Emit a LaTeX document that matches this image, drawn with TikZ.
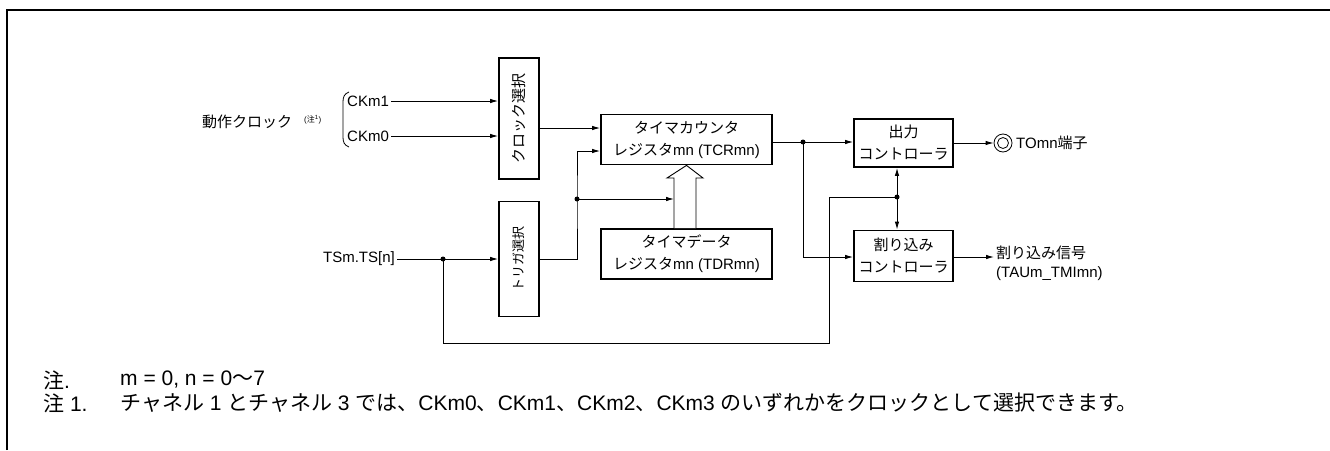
\documentclass[tikz,border=0pt]{standalone}
\usepackage{fontspec}
\usepackage{graphicx}
\setmainfont{Liberation Sans}
\newfontfamily\jp{Noto Sans CJK JP}
\newcommand{\jpt}[1]{{\jp #1}}
\newcommand{\notefont}{\fontsize{21}{24}\selectfont}
\usetikzlibrary{arrows.meta}
\tikzset{
  box/.style={draw, line width=1.8pt, inner sep=0pt, align=center},
  conn/.style={line width=0.9pt},
  arr/.style={-{Latex[length=8pt,width=4.5pt]}},
  darr/.style={{Latex[length=8pt,width=4.5pt]}-{Latex[length=8pt,width=4.5pt]}},
  lbl/.style={inner sep=2pt},
  dot/.style={circle, fill, inner sep=0pt, minimum size=5pt},
  note/.style={anchor=west, inner sep=0pt, font=\notefont},
}
\begin{document}
\begin{tikzpicture}[x=1pt, y=-1pt, font=\fontsize{15}{22}\selectfont]
\useasboundingbox (0,0) rectangle (1330,450);
% frame
\draw[line width=1.2pt] (7,450) -- (7,10) -- (1330,10);

% boxes
\node[box, minimum width=40pt, minimum height=121pt] (clk) at (519,118.5) {\rotatebox{90}{\jpt{クロック選択}}};
\node[box, minimum width=40pt, minimum height=115pt] (trg) at (519,259) {\rotatebox{90}{\fontsize{13}{15}\selectfont\jpt{トリガ選択}}};
\node[box, minimum width=171pt, minimum height=50pt] (tcr) at (686.5,139.5) {\jpt{タイマカウンタ}\\\jpt{レジスタ}mn (TCRmn)};
\node[box, minimum width=171pt, minimum height=50pt] (tdr) at (686.5,254) {\jpt{タイマデータ}\\\jpt{レジスタ}mn (TDRmn)};
\node[box, minimum width=99pt, minimum height=48pt] (outc) at (903.5,143) {\jpt{出力}\\\jpt{コントローラ}};
\node[box, minimum width=99pt, minimum height=51pt] (intc) at (903.5,256) {\jpt{割り込み}\\\jpt{コントローラ}};

% labels
\node (dosa) at (247,122) {\jpt{動作クロック}};
\node[anchor=west, inner sep=0pt, font=\fontsize{8}{9}\selectfont] (nt1) at (304,120) {(\jpt{注}\textsuperscript{1})};
\node[lbl, anchor=west] (ck1) at (345,101) {CKm1};
\node[lbl, anchor=west] (ck0) at (345,136) {CKm0};
\node[lbl, anchor=east] (tsn) at (397,259) {TSm.TS[n]};
\node[circle, draw, line width=0.8pt, minimum size=18pt, inner sep=0pt] (tom) at (1003,143) {};
\node[lbl, anchor=west] (toml) at (1014,143) {TOmn\jpt{端子}};
\node[lbl, anchor=west, align=left, font=\fontsize{15}{19}\selectfont] (sig) at (994,263) {\jpt{割り込み信号}\\(TAUm\_TMImn)};

% brace
\draw[line width=0.8pt] (349,92) .. controls (344,94) and (343,97) .. (343,102) -- (343,137) .. controls (343,142) and (344,145) .. (349,147);
\draw[line width=0.8pt] (tom.center) circle[radius=5.5pt];

% junctions
\coordinate (j1) at (577,199);
\coordinate (j2) at (803,142);
\coordinate (j3) at (897,197);
\coordinate (j4) at (443,259);
\coordinate (ha) at (674,199);
\coordinate (lp1) at (829,343);

% connectors
\draw[conn,arr] (ck1.east) -- (ck1.east -| clk.west);
\draw[conn,arr] (ck0.east) -- (ck0.east -| clk.west);
\draw[conn,arr] (clk.east |- 0,128) -- (tcr.west |- 0,128);
\draw[conn,arr] (tsn.east) -- (trg.west);
\draw[conn,arr] (trg.east) -| (j1) -- (j1 |- 0,151) -- (tcr.west |- 0,151);
\draw[conn,arr] (j1) -- (ha);
\draw[conn,arr] (tcr.east |- j2) -- (outc.west |- j2);
\draw[conn,arr] (j2) |- (intc.west |- 0,257);
\draw[conn,darr] (outc.south -| j3) -- (intc.north -| j3);
\draw[conn] (j3) -| (lp1) -| (j4);
\draw[conn,arr] (outc.east |- tom) -- (tom.west);
\draw[conn,arr] (intc.east |- 0,257) -- (sig.west |- 0,257);

% hollow arrow TDR -> TCR
\draw[line width=0.9pt, fill=white] (tdr.north -| 674,0) -- (674,178) -- (667,178) -- (tcr.south) -- (703,178) -- (696,178) -- (tdr.north -| 696,0);

% dots
\foreach \j in {j1,j2,j3,j4} \node[dot] at (\j) {};

% notes
\node[note] (n0a) at (43,380) {\jpt{注}.};
\node[note] (n0b) at (120,380) {m = 0, n = 0\jpt{〜}7};
\node[note] (n1a) at (43,403) {\jpt{注} 1.};
\node[note] (n1b) at (120,403) {\jpt{チャネル} 1 \jpt{とチャネル} 3 \jpt{では、}CKm0\jpt{、}CKm1\jpt{、}CKm2\jpt{、}CKm3 \jpt{のいずれかをクロックとして選択できます。}};
\end{tikzpicture}
\end{document}
